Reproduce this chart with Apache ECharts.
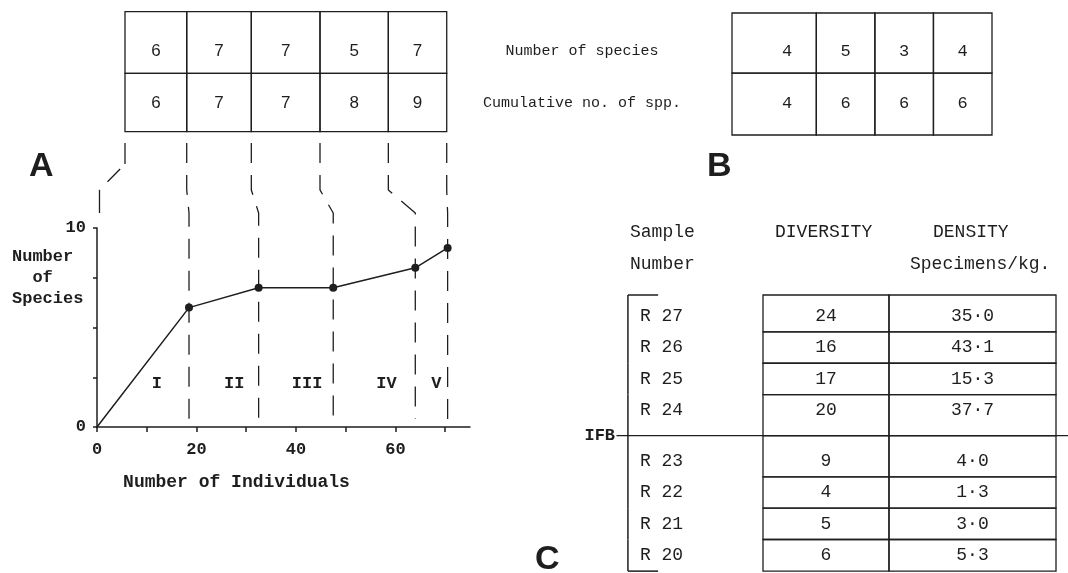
<!DOCTYPE html>
<html>
<head>
<meta charset="utf-8">
<script src="https://cdn.jsdelivr.net/npm/echarts@6/dist/echarts.min.js"></script>
<style>
html, body { margin: 0; padding: 0; background: #fff; }
#main { width: 1068px; height: 573px; }
</style>
</head>
<body>
<div id="main"></div>
<script>
// A - species / individuals curve and the table above it
var individuals = [0, 18.5, 32.5, 47.5, 64, 70.5];
var cumSpecies = [0, 6, 7, 7, 8, 9];
var zoneNames = ['I', 'II', 'III', 'IV', 'V'];
var speciesPerSample = [6, 7, 7, 5, 7];
var cumPerSample = [6, 7, 7, 8, 9];
var xTicks = [0, 10, 20, 30, 40, 50, 60, 70];
var xLabels = [0, 20, 40, 60];
var yTicks = [0, 2.5, 5, 7.5, 10];
var yLabels = [0, 10];

// B
var bRowNames = ['Number of species', 'Cumulative no. of spp.'];
var bSpecies = [4, 5, 3, 4];
var bCumulative = [4, 6, 6, 6];

// C
var cSamples = ['R 27', 'R 26', 'R 25', 'R 24', 'R 23', 'R 22', 'R 21', 'R 20'];
var cDiversity = [24, 16, 17, 20, 9, 4, 5, 6];
var cDensity = [35.0, 43.1, 15.3, 37.7, 4.0, 1.3, 3.0, 5.3];
var ifbBefore = 4; // IFB line sits above this row

var INK = '#1e1e1e';
var MONO = '"Liberation Mono", "DejaVu Sans Mono", monospace';
var SANS = '"Liberation Sans", Arial, sans-serif';

//文字
function txt(x, y, s, font, align) {
	align = align || 'center';
	return {
		type : 'text',
		x : x,
		y : y,
		style : {
			text : s,
			font : font,
			fill : INK,
			align : align,
			textAlign : align,
			verticalAlign : 'middle',
			textVerticalAlign : 'middle'
		}
	};
}

function seg(p1, p2, w) {
	return {
		type : 'line',
		shape : { x1 : p1[0], y1 : p1[1], x2 : p2[0], y2 : p2[1] },
		style : { stroke : INK, lineWidth : w || 1.3 }
	};
}

function box(p1, p2) {
	return {
		type : 'rect',
		shape : { x : p1[0], y : p1[1], width : p2[0] - p1[0], height : p2[1] - p1[1] },
		style : { fill : 'none', stroke : INK, lineWidth : 1.3 }
	};
}

// table A layout (in the curve's own x units)
var aColEdges = [5.63, 18.04, 31.03, 44.84, 58.58, 70.32];
var aRowEdges = [20.87, 17.77, 14.84];
var aTextY = [18.86, 16.27];

var tableAData = [];
[speciesPerSample, cumPerSample].forEach(function(row, r) {
	row.forEach(function(v, c) {
		tableAData.push([c, r, v]);
	});
});

function renderTableA(params, api) {
	var c = api.value(0), r = api.value(1);
	var p1 = api.coord([aColEdges[c], aRowEdges[r]]);
	var p2 = api.coord([aColEdges[c + 1], aRowEdges[r + 1]]);
	var t = api.coord([(aColEdges[c] + aColEdges[c + 1]) / 2, aTextY[r]]);
	return {
		type : 'group',
		children : [ box(p1, p2), txt(t[0], t[1], String(api.value(2)), '17px ' + SANS) ]
	};
}

// dashed connectors from table A down to the curve
var connectorSeries = [];
var targets = [0.5].concat(individuals.slice(1));
targets.forEach(function(xt, i) {
	var xb = aColEdges[i];
	var pts, dash;
	if (i === 0) {
		pts = [[xb, 14.27], [xb, 13.21], [xt, 11.91], [xt, 10.75]];
		dash = [21, 7, 18, 11.4, 23];
	} else {
		pts = [[xb, 14.27], [xb, 11.91], [xt, 10.75], [xt, 0.4]];
		dash = [20, 12];
	}
	connectorSeries.push({
		type : 'line',
		xAxisIndex : 1,
		yAxisIndex : 1,
		data : pts,
		symbol : 'none',
		silent : true,
		lineStyle : { color : INK, width : 1.3, type : dash },
		z : 1
	});
});

var zoneData = zoneNames.map(function(n, i) {
	var a = individuals[i], b = individuals[i + 1];
	return [a + 0.65 * (b - a), 2.2];
});

// table B
var tableBData = [];
[bSpecies, bCumulative].forEach(function(row, r) {
	row.forEach(function(v, c) {
		tableBData.push([c, r, v]);
	});
});
var bRowEdges = [-0.74, 0.42, 1.61];

function renderTableB(params, api) {
	var c = api.value(0), r = api.value(1);
	var left = c === 0 ? -0.94 : c - 0.5;
	var p1 = api.coord([left, bRowEdges[r]]);
	var p2 = api.coord([c + 0.5, bRowEdges[r + 1]]);
	var t = api.coord([c, r]);
	return {
		type : 'group',
		children : [ box(p1, p2), txt(t[0], t[1], String(api.value(2)), '17px ' + MONO) ]
	};
}

function renderRowNames(params, api) {
	var t = api.coord([-3.5, api.value(0)]);
	return txt(t[0], t[1], bRowNames[params.dataIndex], '15px ' + MONO);
}

// table C
function rowY(i) {
	return i + (i >= ifbBefore ? 0.63 : 0);
}
var tableCData = cSamples.map(function(s, i) {
	return [rowY(i), cDiversity[i], cDensity[i]];
});

function renderTableC(params, api) {
	var i = params.dataIndex, n = cSamples.length;
	var y = api.value(0);
	var top = i === 0 ? -0.68 : (rowY(i - 1) + y) / 2;
	var bot = i === n - 1 ? 8.14 : (rowY(i + 1) + y) / 2;
	var split = 0.43;
	var ch = [];
	ch.push(box(api.coord([0, top]), api.coord([split, bot])));
	ch.push(box(api.coord([split, top]), api.coord([1, bot])));
	var t;
	t = api.coord([-0.42, y]);
	ch.push(txt(t[0], t[1], cSamples[i], '18px ' + MONO, 'left'));
	t = api.coord([split / 2, y]);
	ch.push(txt(t[0], t[1], String(api.value(1)), '18px ' + MONO));
	t = api.coord([(split + 1) / 2, y]);
	ch.push(txt(t[0], t[1], api.value(2).toFixed(1).replace('.', '\u00b7'), '18px ' + MONO));
	// bracket
	ch.push(seg(api.coord([-0.461, top]), api.coord([-0.461, bot]), 1.5));
	if (i === 0) {
		ch.push(seg(api.coord([-0.461, top]), api.coord([-0.358, top]), 1.5));
	}
	if (i === n - 1) {
		ch.push(seg(api.coord([-0.461, bot]), api.coord([-0.358, bot]), 1.5));
	}
	if (i === ifbBefore) {
		ch.push(seg(api.coord([-0.5, top]), api.coord([1.041, top]), 1.3));
		t = api.coord([-0.505, top]);
		ch.push(txt(t[0], t[1], 'IFB', 'bold 17px ' + MONO, 'right'));
	}
	return { type : 'group', children : ch };
}

var labelFont = { color : INK, fontFamily : MONO, fontWeight : 'bold', fontSize : 17 };

var chart = echarts.init(document.getElementById('main'));
var option = {
	animation : false,
	backgroundColor : '#fff',
	grid : [
		{ left : 97, top : 228, width : 373, height : 199 },
		{ left : 97, top : 9, width : 373, height : 418 },
		{ left : 732, top : 13, width : 260, height : 122 },
		{ left : 763, top : 295, width : 293, height : 278 }
	],
	xAxis : [
		{
			gridIndex : 0, type : 'value', min : 0, max : 75, interval : 10,
			axisLine : { show : true, lineStyle : { color : INK, width : 1.5 } },
			axisTick : { show : true, length : 5, customValues : xTicks, lineStyle : { color : INK, width : 1.5 } },
			axisLabel : Object.assign({ customValues : xLabels, margin : 14 }, labelFont),
			splitLine : { show : false },
			name : 'Number of Individuals',
			nameLocation : 'middle',
			nameGap : 46,
			nameTextStyle : { color : INK, fontFamily : MONO, fontWeight : 'bold', fontSize : 18, padding : [0, 94, 0, 0] }
		},
		{ gridIndex : 1, type : 'value', min : 0, max : 75, show : false },
		{ gridIndex : 2, type : 'value', min : -0.94, max : 3.5, show : false },
		{ gridIndex : 3, type : 'value', min : 0, max : 1, show : false }
	],
	yAxis : [
		{
			gridIndex : 0, type : 'value', min : 0, max : 10, interval : 2.5,
			axisLine : { show : true, lineStyle : { color : INK, width : 1.5 } },
			axisTick : { show : true, length : 4, customValues : yTicks, lineStyle : { color : INK, width : 1.5 } },
			axisLabel : Object.assign({ customValues : yLabels, margin : 11 }, labelFont),
			splitLine : { show : false }
		},
		{ gridIndex : 1, type : 'value', min : 0, max : 21, show : false },
		{ gridIndex : 2, type : 'value', min : -0.74, max : 1.61, inverse : true, show : false },
		{ gridIndex : 3, type : 'value', min : -0.68, max : 8.2, inverse : true, show : false }
	],
	graphic : [
		{ type : 'text', left : 29, top : 150, style : { text : 'A', font : 'bold 34px ' + SANS, fill : INK } },
		{ type : 'text', left : 707, top : 150, style : { text : 'B', font : 'bold 34px ' + SANS, fill : INK } },
		{ type : 'text', left : 535, top : 543, style : { text : 'C', font : 'bold 34px ' + SANS, fill : INK } },
		{ type : 'text', left : 12, top : 246, style : { text : 'Number\n  of\nSpecies', font : 'bold 17px ' + MONO, fill : INK, lineHeight : 21 } },
		{ type : 'text', left : 630, top : 223, style : { text : 'Sample', font : '18px ' + MONO, fill : INK } },
		{ type : 'text', left : 630, top : 255, style : { text : 'Number', font : '18px ' + MONO, fill : INK } },
		{ type : 'text', left : 775, top : 223, style : { text : 'DIVERSITY', font : '18px ' + MONO, fill : INK } },
		{ type : 'text', left : 933, top : 223, style : { text : 'DENSITY', font : '18px ' + MONO, fill : INK } },
		{ type : 'text', left : 910, top : 255, style : { text : 'Specimens/kg.', font : '18px ' + MONO, fill : INK } }
	],
	series : [
		{
			type : 'line',
			xAxisIndex : 0,
			yAxisIndex : 0,
			data : individuals.map(function(x, i) {
				return i === 0 ? { value : [x, cumSpecies[i]], symbol : 'none' } : [x, cumSpecies[i]];
			}),
			symbol : 'circle',
			symbolSize : 8,
			itemStyle : { color : INK },
			lineStyle : { color : INK, width : 1.5 },
			z : 5
		},
		{
			type : 'custom',
			xAxisIndex : 0,
			yAxisIndex : 0,
			data : zoneData,
			renderItem : function(params, api) {
				var p = api.coord([api.value(0), api.value(1)]);
				return txt(p[0], p[1], zoneNames[params.dataIndex], 'bold 17px ' + MONO);
			}
		},
		{ type : 'custom', xAxisIndex : 1, yAxisIndex : 1, data : tableAData, renderItem : renderTableA },
		{ type : 'custom', xAxisIndex : 2, yAxisIndex : 2, data : tableBData, renderItem : renderTableB },
		{ type : 'custom', xAxisIndex : 2, yAxisIndex : 2, data : [[0], [1]], renderItem : renderRowNames },
		{ type : 'custom', xAxisIndex : 3, yAxisIndex : 3, data : tableCData, renderItem : renderTableC }
	].concat(connectorSeries)
};
chart.setOption(option);
</script>
</body>
</html>
